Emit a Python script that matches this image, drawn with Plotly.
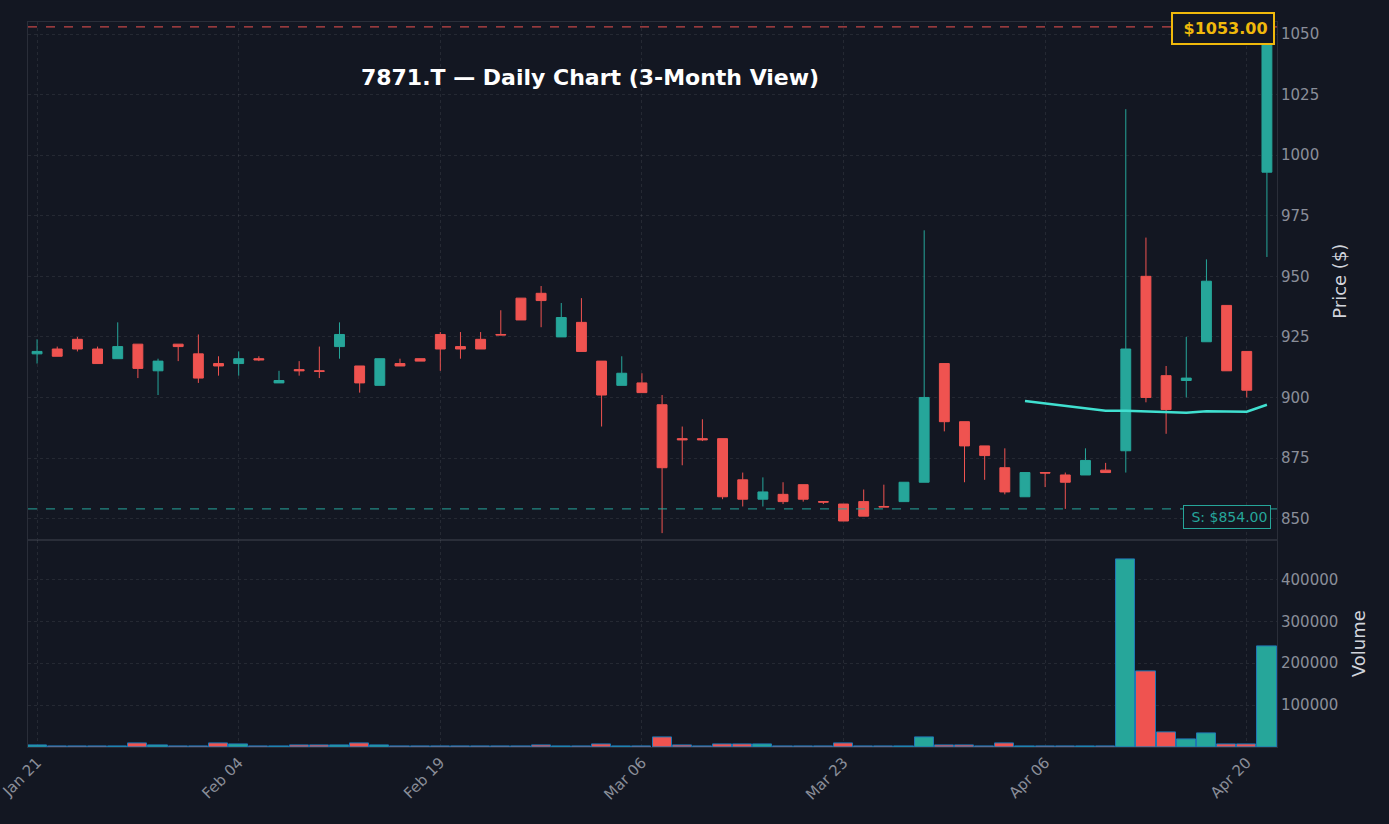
import plotly.graph_objects as go
from plotly.subplots import make_subplots

# daily candles, index = trading day
opens = [918, 920, 924, 920, 916, 922, 911, 922, 918, 914, 914, 916, 906, 911.5, 911, 921, 913, 905, 914, 916,
         926, 921, 924, 926, 941, 943, 925, 931, 915, 905, 906, 897, 883, 883, 883, 866, 858, 860, 864, 857,
         856, 857, 855, 857, 865, 914, 890, 880, 871, 859, 869, 868, 868, 870, 878, 950, 909, 907, 923, 938,
         919, 993]
highs = [924, 921, 925, 921, 931, 922, 916, 922, 926, 917, 919, 917, 911, 915, 921, 931, 913, 916, 916, 916,
         927, 927, 927, 936, 941, 946, 939, 941, 915, 917, 910, 901, 888, 891, 883, 869, 867, 865, 864, 857,
         856, 862, 864, 865, 969, 914, 890, 880, 879, 869, 869, 869, 879, 873, 1019, 966, 913, 925, 957, 938,
         919, 1053]
lows = [914, 917, 919, 914, 916, 908, 901, 915, 906, 909, 909, 915, 906, 909, 908, 916, 902, 905, 913, 915,
        911, 916, 920, 926, 932, 929, 925, 919, 888, 905, 902, 844, 872, 882, 858, 855, 855, 856, 857, 856,
        849, 851, 855, 857, 865, 886, 865, 866, 860, 859, 863, 854, 868, 869, 869, 898, 885, 900, 923, 911,
        900, 958]
closes = [919, 917, 920, 914, 921, 912, 915, 921, 908, 913, 916, 915.5, 907, 911, 910.8, 926, 906, 916, 913, 915,
          920, 920, 920, 925.8, 932, 940, 933, 919, 901, 910, 902, 871, 882.5, 882.5, 859, 858, 861, 857, 858, 856.8,
          849, 851, 854.8, 865, 900, 890, 880, 876, 861, 869, 868.8, 865, 874, 869, 920, 900, 895, 908, 948, 911,
          903, 1053]
volumes = [3000, 1000, 1000, 1000, 2000, 8000, 5000, 2000, 2000, 8000, 6000, 1000, 1000, 3000, 3000, 4000,
           8000, 3000, 1000, 1000, 1000, 1000, 1000, 1000, 1000, 4000, 1000, 2000, 6000, 1000, 1000, 22000,
           4000, 1000, 7000, 7000, 6000, 2000, 1000, 1000, 8000, 2000, 1000, 1000, 22000, 5000, 4000, 2000,
           8000, 1000, 1000, 2000, 1000, 1000, 447000, 180000, 34000, 18000, 32000, 7000, 7000, 240000]
ma_start = 49
ma_values = [898.5, 897.5, 896.5, 895.5, 894.5, 894.5, 894.2, 894, 893.7, 894.3, 894.3, 894.1, 897]
tick_pos = [0, 10, 20, 30, 40, 50, 60]
tick_labels = ["Jan 21", "Feb 04", "Feb 19", "Mar 06", "Mar 23", "Apr 06", "Apr 20"]
resistance = 1053
support = 854

x = list(range(len(opens)))
up = "#26a69a"
down = "#ef5350"
bg = "#131722"

fig = make_subplots(rows=2, cols=1, shared_xaxes=True, vertical_spacing=0, row_heights=[0.715, 0.285])

fig.add_trace(go.Candlestick(x=x, open=opens, high=highs, low=lows, close=closes,
                             increasing=dict(line=dict(color=up, width=1), fillcolor=up),
                             decreasing=dict(line=dict(color=down, width=1), fillcolor=down),
                             whiskerwidth=0, showlegend=False), row=1, col=1)
fig.add_trace(go.Scatter(x=x[ma_start:], y=ma_values, mode="lines",
                         line=dict(color="#40e0d0", width=2.5), showlegend=False), row=1, col=1)

vol_colors = [up if c >= o else down for o, c in zip(opens, closes)]
fig.add_trace(go.Bar(x=x, y=volumes, marker=dict(color=vol_colors, line=dict(color="#1f77b4", width=1)),
                     width=0.95, showlegend=False), row=2, col=1)

fig.add_hline(y=resistance, line=dict(color=down, dash="dash", width=1.2), opacity=0.8, row=1, col=1)
fig.add_hline(y=support, line=dict(color=up, dash="dash", width=1.2), opacity=0.8, row=1, col=1)

fig.add_annotation(x=0.998, xref="paper", y=resistance, yref="y", yshift=-2, text="<b> $1053.00</b>",
                   showarrow=False, xanchor="right", yanchor="middle", font=dict(color="#f0b90b", size=16),
                   bgcolor=bg, bordercolor="#f0b90b", borderwidth=2, borderpad=5)
fig.add_annotation(x=0.995, xref="paper", y=support, yref="y", text=" S: $854.00", showarrow=False,
                   xanchor="right", yanchor="top", yshift=4, font=dict(color=up, size=14),
                   bgcolor=bg, bordercolor=up, borderwidth=1, borderpad=3)

grid = "rgba(255,255,255,0.08)"
fig.update_layout(
    width=1389, height=824, paper_bgcolor=bg, plot_bgcolor=bg,
    margin=dict(l=28, r=112, t=22, b=77, autoexpand=False),
    title=dict(text="<b>7871.T — Daily Chart (3-Month View)</b>", x=0.45, xref="paper", xanchor="center",
               y=0.906, yanchor="middle", font=dict(color="white", size=22)),
    font=dict(family="DejaVu Sans", color="#8a8e99", size=15),
    bargap=0, xaxis_rangeslider_visible=False,
)
fig.update_xaxes(showgrid=True, gridcolor=grid, griddash="dot", zeroline=False, automargin=False,
                 tickvals=tick_pos, ticktext=tick_labels, tickangle=-45, range=[-0.45, 61.5],
                 ticklabeloverflow="allow", linecolor="#2a2e39", showline=True, mirror=True)
fig.update_xaxes(showticklabels=False, row=1, col=1)
fig.update_yaxes(side="right", showgrid=True, gridcolor=grid, griddash="dot", zeroline=False,
                 automargin=False, linecolor="#2a2e39", showline=True, mirror=True)
fig.update_yaxes(range=[841, 1055], dtick=25, title=dict(text="Price ($)", font=dict(color="#d1d4dc")),
                 row=1, col=1)
fig.update_yaxes(range=[0, 493000], tickvals=[100000, 200000, 300000, 400000], tickformat="d",
                 title=dict(text="Volume", font=dict(color="#d1d4dc")), row=2, col=1)

fig.write_html("out.html", config={"displayModeBar": False},
               post_script="document.body.style.margin='0';document.body.style.background='#131722';")
